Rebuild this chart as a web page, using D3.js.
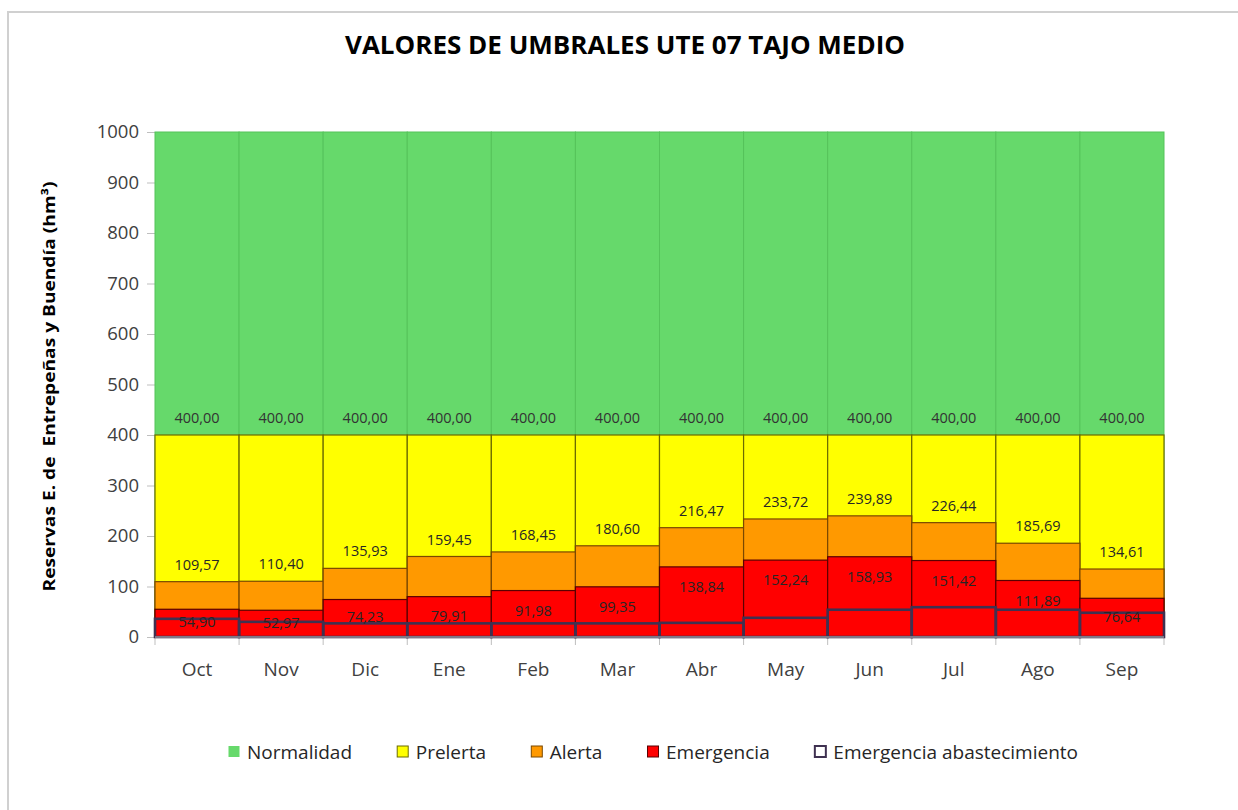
<!DOCTYPE html>
<html>
<head>
<meta charset="utf-8">
<script src="https://cdn.jsdelivr.net/npm/d3@7"></script>
<style>
  html, body { margin: 0; padding: 0; background: #fff; }
  svg { display: block; font-family: "Open Sans", "DejaVu Sans", sans-serif; }
</style>
</head>
<body>
<svg id="chart" width="1238" height="810"></svg>
<script>
// ---- data ----
const months = ["Oct","Nov","Dic","Ene","Feb","Mar","Abr","May","Jun","Jul","Ago","Sep"];
const normalidad = [1000,1000,1000,1000,1000,1000,1000,1000,1000,1000,1000,1000];
const prelerta = [400,400,400,400,400,400,400,400,400,400,400,400];
const alerta = [109.57,110.40,135.93,159.45,168.45,180.60,216.47,233.72,239.89,226.44,185.69,134.61];
const emergencia = [54.90,52.97,74.23,79.91,91.98,99.35,138.84,152.24,158.93,151.42,111.89,76.64];
const abastecimiento = [36,30,27,27,27,27,28,38,54,59,54,48];
const yTicks = [0,100,200,300,400,500,600,700,800,900,1000];
const seriesNames = ["Normalidad","Prelerta","Alerta","Emergencia","Emergencia abastecimiento"];

const svg = d3.select("#chart");
const plot = {left: 155, right: 1164, top: 132, bottom: 637};

const x = d3.scaleBand().domain(months).range([plot.left, plot.right]).paddingInner(0).paddingOuter(0);
const y = d3.scaleLinear().domain([0, 1000]).range([plot.bottom, plot.top]);
const fmt = v => d3.format(".2f")(v).replace(".", ",");

// outer frame (clipped by the window on right/bottom)
svg.append("rect").attr("x", 8).attr("y", 12).attr("width", 1300).attr("height", 900)
  .attr("fill", "none").attr("stroke", "#d0d0d0").attr("stroke-width", 2);

// title
svg.append("text").attr("x", 625).attr("y", 54).attr("text-anchor", "middle")
  .attr("font-weight", "bold").attr("font-size", 25).attr("fill", "#000")
  .attr("textLength", 560).attr("lengthAdjust", "spacingAndGlyphs")
  .text("VALORES DE UMBRALES UTE 07 TAJO MEDIO");

// y axis
const yAxis = d3.axisLeft(y).tickValues(yTicks).tickSize(8).tickPadding(8).tickFormat(d3.format("d"));
const gy = svg.append("g").attr("transform", `translate(${plot.left},0)`).call(yAxis);
gy.select(".domain").attr("stroke", "#bfbfbf");
gy.selectAll(".tick line").attr("stroke", "#bfbfbf");
gy.selectAll(".tick text").attr("font-size", 18.5).attr("fill", "#404040")
  .attr("font-family", "'Open Sans', sans-serif");

// x axis
const gx = svg.append("g").attr("transform", `translate(0,${plot.bottom})`)
  .call(d3.axisBottom(x).tickSize(0).tickPadding(26));
gx.select(".domain").attr("stroke", "#bfbfbf");
gx.selectAll(".tick text").attr("font-size", 19).attr("fill", "#404040")
  .attr("font-family", "'Open Sans', sans-serif");
// boundary ticks
const bounds = months.map(m => x(m)).concat([x(months[months.length-1]) + x.bandwidth()]);
svg.append("g").selectAll("line").data(bounds).join("line")
  .attr("x1", d => d).attr("x2", d => d).attr("y1", plot.bottom).attr("y2", plot.bottom + 8)
  .attr("stroke", "#bfbfbf");

// y title
svg.append("text")
  .attr("transform", `translate(55,${(plot.top + plot.bottom)/2 + 2}) rotate(-90)`)
  .attr("text-anchor", "middle").attr("font-weight", "bold").attr("font-size", 16.5)
  .attr("fill", "#000").style("white-space", "pre")
  .attr("textLength", 410).attr("lengthAdjust", "spacingAndGlyphs")
  .text("Reservas E. de  Entrepeñas y Buendía (hm³)");

// bars
const layers = [
  {name: "Normalidad", vals: normalidad, fill: "#66d96b", stroke: "#55c35a", sw: 1},
  {name: "Prelerta", vals: prelerta, fill: "#ffff00", stroke: "#6b6b00", sw: 1.2},
  {name: "Alerta", vals: alerta, fill: "#ff9900", stroke: "#7a4800", sw: 1.2},
  {name: "Emergencia", vals: emergencia, fill: "#ff0000", stroke: "#5a0000", sw: 1.2},
];
const gBars = svg.append("g");
layers.forEach(L => {
  gBars.append("g").selectAll("rect").data(months).join("rect")
    .attr("x", d => x(d)).attr("width", x.bandwidth())
    .attr("y", (d, i) => y(L.vals[i])).attr("height", (d, i) => y(0) - y(L.vals[i]))
    .attr("fill", L.fill).attr("stroke", L.stroke).attr("stroke-width", L.sw);
});
// abastecimiento outline bars
gBars.append("g").selectAll("rect").data(months).join("rect")
  .attr("x", d => x(d)).attr("width", x.bandwidth())
  .attr("y", (d, i) => y(abastecimiento[i])).attr("height", (d, i) => y(0) - y(abastecimiento[i]))
  .attr("fill", "none").attr("stroke", "#3f3151").attr("stroke-width", 2.6);

// axis baseline on top
svg.append("line").attr("x1", plot.left).attr("x2", plot.right).attr("y1", plot.bottom).attr("y2", plot.bottom)
  .attr("stroke", "#bfbfbf").attr("stroke-width", 1);

// data labels
const gL = svg.append("g").attr("font-size", 14.5).attr("fill", "#262626").attr("text-anchor", "middle");
gL.selectAll("text.p").data(months).join("text").attr("class", "p")
  .attr("x", d => x(d) + x.bandwidth()/2).attr("y", (d, i) => y(prelerta[i]) - 17)
  .attr("dy", "0.35em").attr("fill", "#333").text((d, i) => fmt(prelerta[i]));
gL.selectAll("text.a").data(months).join("text").attr("class", "a")
  .attr("x", d => x(d) + x.bandwidth()/2).attr("y", (d, i) => y(alerta[i]) - 17)
  .attr("dy", "0.35em").text((d, i) => fmt(alerta[i]));
gL.selectAll("text.e").data(months).join("text").attr("class", "e")
  .attr("x", d => x(d) + x.bandwidth()/2)
  .attr("y", (d, i) => Math.min(y(emergencia[i]) + 20, (y(emergencia[i]) + y(0)) / 2 - 1))
  .attr("dy", "0.35em").text((d, i) => fmt(emergencia[i]));

// legend
const legItems = [
  {name: seriesNames[0], fill: "#66d96b", stroke: "none"},
  {name: seriesNames[1], fill: "#ffff00", stroke: "#6b6b00"},
  {name: seriesNames[2], fill: "#ff9900", stroke: "#7a4800"},
  {name: seriesNames[3], fill: "#ff0000", stroke: "#5a0000"},
  {name: seriesNames[4], fill: "#fff", stroke: "#3f3151"},
];
const gLeg = svg.append("g");
const legY = 752;
const nodes = [];
legItems.forEach(it => {
  const g = gLeg.append("g");
  g.append("rect").attr("x", 0.5).attr("y", -6).attr("width", 11).attr("height", 11)
    .attr("fill", it.fill).attr("stroke", it.stroke).attr("stroke-width", it.name === seriesNames[4] ? 2 : 1);
  const t = g.append("text").attr("x", 19).attr("y", 0).attr("dy", "0.35em")
    .attr("font-size", 19).attr("fill", "#262626").text(it.name);
  const w = 19 + t.node().getComputedTextLength();
  nodes.push({g, w});
});
const legLeft = 228, legRight = 1078;
const gap = (legRight - legLeft - d3.sum(nodes, n => n.w)) / (nodes.length - 1);
let start = legLeft;
nodes.forEach(n => {
  n.g.attr("transform", `translate(${start},${legY})`);
  start += n.w + gap;
});
</script>
</body>
</html>
